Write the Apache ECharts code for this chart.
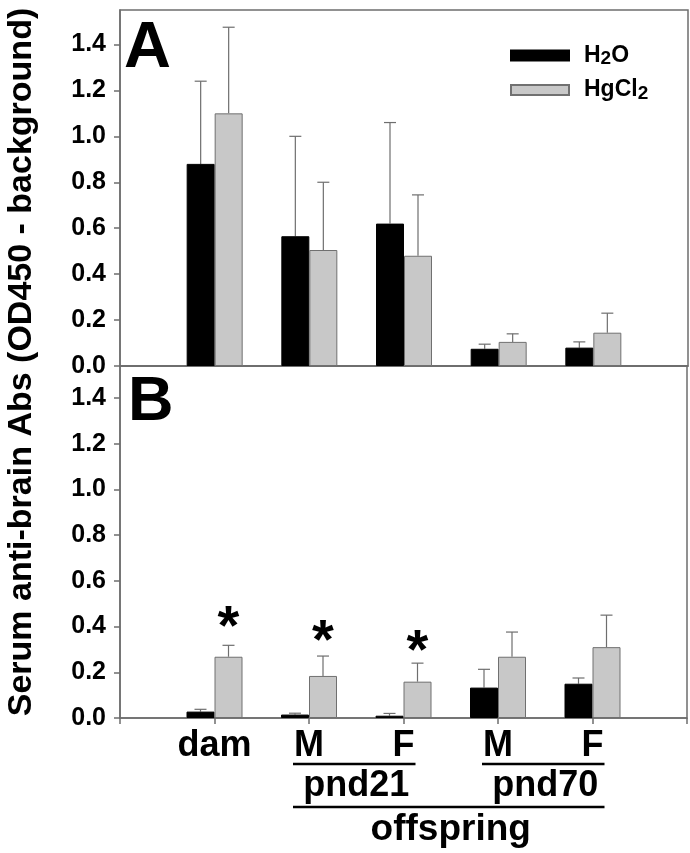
<!DOCTYPE html>
<html><head><meta charset="utf-8">
<script src="https://cdn.jsdelivr.net/npm/echarts@6/dist/echarts.min.js"></script>
<style>html,body{margin:0;padding:0;background:#fff}#c{width:690px;height:853px}</style>
</head><body><div id="c"></div>
<script>
const categories = ['', 'dam', 'M', 'F', 'M', 'F', ''];
const yTicks = [0, 0.2, 0.4, 0.6, 0.8, 1.0, 1.2, 1.4];
// Panel A
const aH2O = ['-', 0.88, 0.565, 0.62, 0.075, 0.08, '-'];
const aH2OErr = ['-', 0.36, 0.435, 0.44, 0.02, 0.025, '-'];
const aHg = ['-', 1.10, 0.505, 0.48, 0.105, 0.145, '-'];
const aHgErr = ['-', 0.375, 0.295, 0.265, 0.035, 0.085, '-'];
// Panel B
const bH2O = ['-', 0.028, 0.015, 0.01, 0.133, 0.15, '-'];
const bH2OErr = ['-', 0.01, 0.006, 0.01, 0.08, 0.025, '-'];
const bHg = ['-', 0.268, 0.184, 0.159, 0.268, 0.31, '-'];
const bHgErr = ['-', 0.05, 0.087, 0.081, 0.108, 0.14, '-'];
// significance stars (category index, value)
const stars = [[1, 0.442], [2, 0.381], [3, 0.337]];
const groups = [
  {label: 'pnd21', from: 2, to: 3},
  {label: 'pnd70', from: 4, to: 5}
];
const outerGroup = {label: 'offspring', from: 2, to: 5};

const FONT = '"Liberation Sans", Arial, sans-serif';
const AX = '#6e6e6e';
const BAR_W = 28;
const STAR_SIZE = 56;

function errData(means, errs) {
  const out = [];
  for (let i = 0; i < means.length; i++) {
    if (means[i] !== '-') out.push([i, means[i], errs[i]]);
  }
  return out;
}
function errSeries(means, errs, side, idx) {
  return {
    type: 'custom', xAxisIndex: idx, yAxisIndex: idx, z: 1,
    data: errData(means, errs),
    renderItem: function (params, api) {
      const x = api.value(0), m = api.value(1), e = api.value(2);
      const p0 = api.coord([x, m]);
      const p1 = api.coord([x, m + e]);
      const cx = p0[0] + side * BAR_W / 2;
      return {
        type: 'group', children: [
          {type: 'line', shape: {x1: cx, y1: p0[1], x2: cx, y2: p1[1]}, style: {stroke: AX, lineWidth: 1.2}},
          {type: 'line', shape: {x1: cx - 6, y1: p1[1], x2: cx + 6, y2: p1[1]}, style: {stroke: AX, lineWidth: 1.2}}
        ]
      };
    }
  };
}
function yAxis(idx, max) {
  return {
    type: 'value', gridIndex: idx, min: 0, max: max,
    axisLine: {show: true, lineStyle: {color: AX, width: 1.5}},
    axisTick: {show: true, length: 6, lineStyle: {color: AX, width: 1.5}, customValues: yTicks},
    axisLabel: {customValues: yTicks, margin: 14, color: '#000', fontFamily: FONT, fontWeight: 'bold', fontSize: 25,
      formatter: v => v.toFixed(1)},
    splitLine: {show: false}
  };
}
function xAxis(idx, showLabels) {
  return {
    type: 'category', gridIndex: idx, data: categories, boundaryGap: false,
    axisLine: {show: true, lineStyle: {color: AX, width: 1.5}},
    axisTick: {show: showLabels, length: 6, lineStyle: {color: AX, width: 1.5}},
    axisLabel: {show: showLabels, interval: 0, margin: 10, color: '#000', fontFamily: FONT, fontWeight: 'bold', fontSize: 36},
    splitLine: {show: false}
  };
}
function barSeries(name, data, idx, color, border) {
  return {
    name: name, type: 'bar', xAxisIndex: idx, yAxisIndex: idx, data: data,
    barWidth: BAR_W, barGap: '0%', z: 2,
    itemStyle: {color: color, borderColor: border, borderWidth: 1}
  };
}

const chart = echarts.init(document.getElementById('c'), null, {renderer: 'canvas'});
const option = {
  animation: false,
  grid: [
    {left: 120, right: 2, top: 10, height: 356, show: true, borderColor: AX, borderWidth: 1.5},
    {left: 120, right: 2, top: 366, height: 352, show: true, borderColor: AX, borderWidth: 1.5}
  ],
  xAxis: [xAxis(0, false), xAxis(1, true)],
  yAxis: [yAxis(0, 1.55), yAxis(1, 1.54)],
  legend: {
    left: 505, top: 39, orient: 'vertical', itemWidth: 58, itemHeight: 10, itemGap: 10,
    icon: 'rect', data: ['H2O', 'HgCl2'],
    formatter: function (n) { return n === 'H2O' ? '{n|H}{s|2}{n|O}' : '{n|HgCl}{s|2}'; },
    textStyle: {padding: [0, 0, 0, 10],
      rich: {
        n: {fontFamily: FONT, fontWeight: 'bold', fontSize: 23, lineHeight: 26, color: '#000'},
        s: {fontFamily: FONT, fontWeight: 'bold', fontSize: 19, lineHeight: 19, color: '#000', verticalAlign: 'bottom'}
      }}
  },
  series: [
    barSeries('H2O', aH2O, 0, '#000', '#000'),
    barSeries('HgCl2', aHg, 0, '#c8c8c8', '#707070'),
    errSeries(aH2O, aH2OErr, -1, 0),
    errSeries(aHg, aHgErr, 1, 0),
    barSeries('H2O', bH2O, 1, '#000', '#000'),
    barSeries('HgCl2', bHg, 1, '#c8c8c8', '#707070'),
    errSeries(bH2O, bH2OErr, -1, 1),
    errSeries(bHg, bHgErr, 1, 1),
    {
      type: 'custom', xAxisIndex: 1, yAxisIndex: 1, z: 3, data: stars,
      renderItem: function (params, api) {
        const p = api.coord([api.value(0), api.value(1)]);
        // the asterisk glyph sits high in its em box: shift by 0.2em to centre the glyph on the value
        return {type: 'text', x: p[0] + BAR_W / 2, y: p[1] + STAR_SIZE * 0.2,
          style: {text: '*', fill: '#000', font: 'bold ' + STAR_SIZE + 'px ' + FONT, align: 'center', verticalAlign: 'middle'}};
      }
    }
  ],
  graphic: [
    {type: 'text', x: 22, y: 362, rotation: Math.PI / 2,
      style: {text: 'Serum anti-brain Abs (OD450 - background)', fill: '#000', font: 'bold 34px ' + FONT, align: 'center', verticalAlign: 'middle'}},
    {type: 'text', x: 124, y: 49, style: {text: 'A', fill: '#000', font: 'bold 65px ' + FONT, verticalAlign: 'middle'}},
    {type: 'text', x: 128, y: 403, style: {text: 'B', fill: '#000', font: 'bold 63px ' + FONT, verticalAlign: 'middle'}}
  ]
};
chart.setOption(option);

// group annotations placed through the axis scale
function px(i) { return chart.convertToPixel({xAxisIndex: 1}, i); }
const extra = [];
const lineY1 = 764, textY1 = 786, lineY2 = 807, textY2 = 830;
groups.forEach(g => {
  const a = px(g.from), b = px(g.to);
  extra.push({type: 'line', shape: {x1: a - 16, y1: lineY1, x2: b + 12, y2: lineY1}, style: {stroke: '#000', lineWidth: 2.5}});
  extra.push({type: 'text', x: (a + b) / 2, y: textY1, style: {text: g.label, fill: '#000', font: 'bold 36px ' + FONT, align: 'center', verticalAlign: 'middle'}});
});
{
  const a = px(outerGroup.from), b = px(outerGroup.to);
  extra.push({type: 'line', shape: {x1: a - 16, y1: lineY2, x2: b + 12, y2: lineY2}, style: {stroke: '#000', lineWidth: 2.5}});
  extra.push({type: 'text', x: (a + b) / 2, y: textY2, style: {text: outerGroup.label, fill: '#000', font: 'bold 37px ' + FONT, align: 'center', verticalAlign: 'middle'}});
}
chart.setOption({graphic: option.graphic.concat(extra)});
</script>
</body></html>
